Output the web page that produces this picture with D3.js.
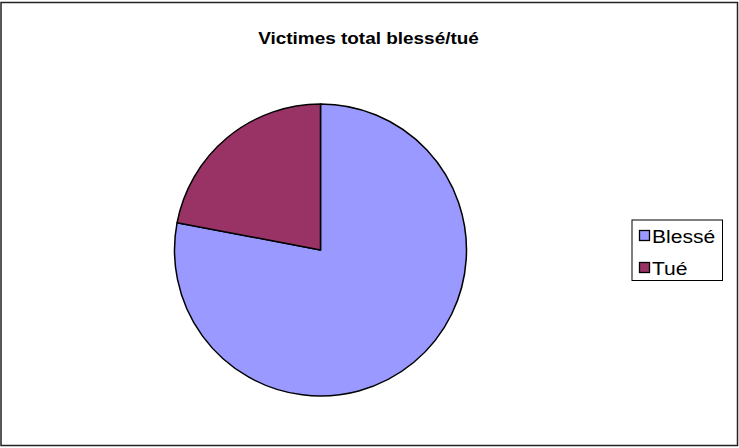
<!DOCTYPE html>
<html><head><meta charset="utf-8">
<script src="https://cdn.jsdelivr.net/npm/d3@7/dist/d3.min.js"></script>
<style>body{margin:0;background:#fff}svg{display:block}</style>
</head><body>
<script>
const categories = ["Blessé", "Tué"];
const values = [78, 22];
const colors = ["#9999FF", "#993366"];
const title = "Victimes total blessé/tué";

const W = 739, H = 448;
const stretch = 1.17;
const svg = d3.select("body").append("svg").attr("width", W).attr("height", H);
svg.append("rect").attr("x", 1).attr("y", 2.5).attr("width", 736.5).attr("height", 443)
  .attr("fill", "#fff").attr("stroke", "#222").attr("stroke-width", 1.5);

const t = svg.append("text").attr("x", 368.5).attr("y", 43.5).attr("text-anchor", "middle")
  .attr("font-family", "Liberation Sans, Arial, sans-serif").attr("font-weight", "bold")
  .attr("font-size", 16.2).text(title);
t.attr("textLength", t.node().getComputedTextLength() * stretch).attr("lengthAdjust", "spacingAndGlyphs");

const data = categories.map((c, i) => ({c, v: values[i], col: colors[i]}));
const pie = d3.pie().value(d => d.v).sort(null);
const arc = d3.arc().innerRadius(0).outerRadius(146);
const g = svg.append("g").attr("transform", "translate(320.5,250)");
g.selectAll("path").data(pie(data)).enter().append("path")
  .attr("d", arc).attr("fill", d => d.data.col)
  .attr("stroke", "#000").attr("stroke-width", 1.5).attr("stroke-linejoin", "round");

const lg = svg.append("g");
lg.append("rect").attr("x", 632).attr("y", 220).attr("width", 90.5).attr("height", 60.5)
  .attr("fill", "#fff").attr("stroke", "#000").attr("stroke-width", 1);
const sc = d3.scaleBand().domain(categories).range([220, 284]);
data.forEach(d => {
  const yc = sc(d.c) + sc.bandwidth() / 2;
  lg.append("rect").attr("x", 639.5).attr("y", yc - 5.5).attr("width", 10).attr("height", 10)
    .attr("fill", d.col).attr("stroke", "#000").attr("stroke-width", 1.3);
  const tx = lg.append("text").attr("x", 652).attr("y", yc + 6.5)
    .attr("font-family", "Liberation Sans, Arial, sans-serif").attr("font-size", 18)
    .attr("fill", "#000").text(d.c);
  tx.attr("textLength", tx.node().getComputedTextLength() * stretch).attr("lengthAdjust", "spacingAndGlyphs");
});
</script>
</body></html>
